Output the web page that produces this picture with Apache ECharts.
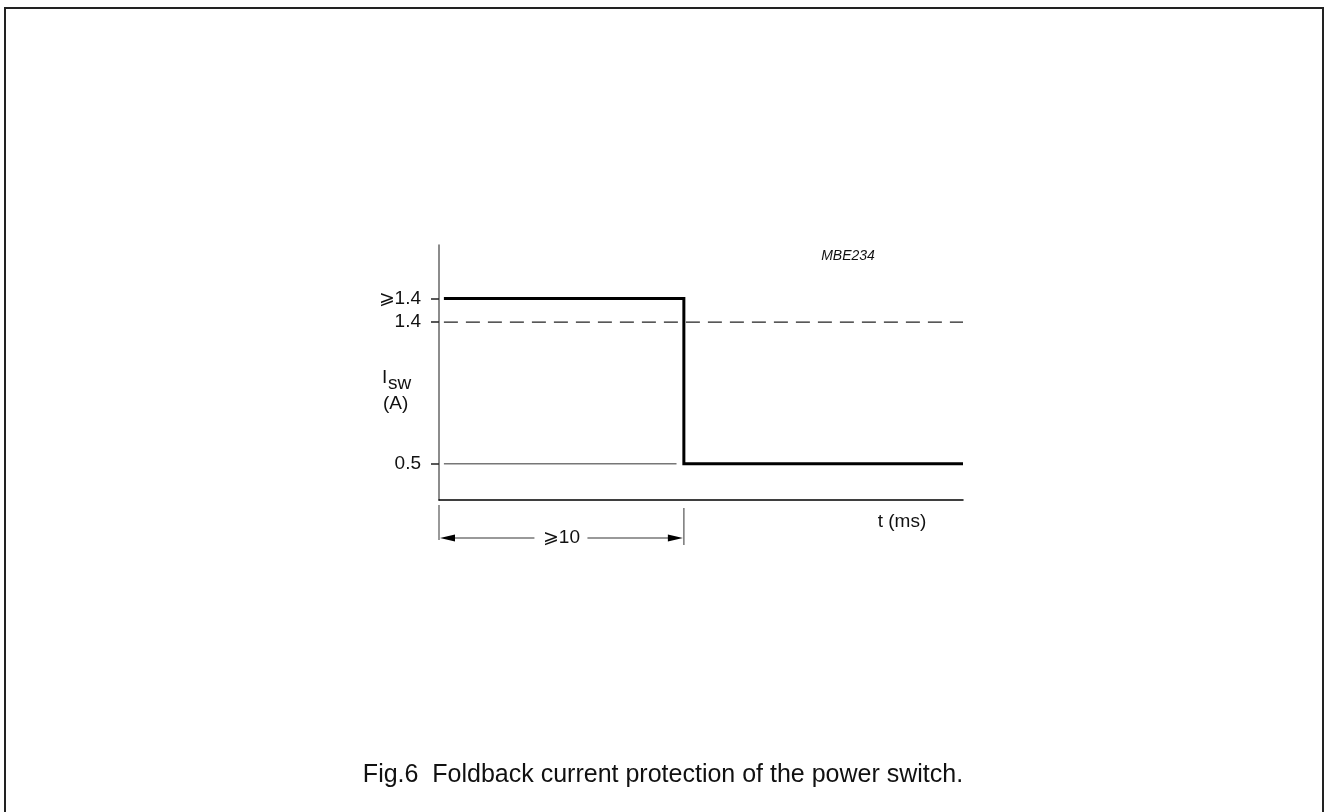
<!DOCTYPE html>
<html>
<head>
<meta charset="utf-8">
<script src="https://cdn.jsdelivr.net/npm/echarts@6/dist/echarts.min.js"></script>
<style>
  html, body { margin: 0; padding: 0; background: #fff; }
  #chart { width: 1326px; height: 812px; }
</style>
</head>
<body>
<div id="chart"></div>
<script>
// ---- data ----
const tRange = [0, 21.4];            // time axis extent (ms, schematic)
const iRange = [0.27, 1.89];         // current axis extent (A, schematic)
const stepT = [0.2, 10, 10, 21.4];   // foldback step (time)
const stepI = [1.55, 1.55, 0.5, 0.5];// foldback step (current)
const refT = [0.2, 21.4];            // dashed 1.4 A reference
const refI = [1.4, 1.4];
const lowT = [0.2, 9.7];             // thin 0.5 A reference
const lowI = [0.5, 0.5];
const yTickValues = [0.5, 1.4, 1.55];
const yTickLabels = ['0.5', '1.4', '\u2A7E1.4'];
const dimSpan = [0, 10];             // dimension arrow span
const dimLabel = '\u2A7E10';
const caption = 'Fig.6  Foldback current protection of the power switch.';
const code = 'MBE234';

const FONT = 'Liberation Sans, Arial, Helvetica, sans-serif';
const zip = (a, b) => a.map((v, i) => [v, b[i]]);

const chart = echarts.init(document.getElementById('chart'), null, { renderer: 'canvas' });

const option = {
  animation: false,
  backgroundColor: '#fff',
  grid: { left: 439, right: 363, top: 245, bottom: 312, containLabel: false },
  xAxis: {
    type: 'value', min: tRange[0], max: tRange[1],
    axisLine: { show: true, lineStyle: { color: '#000', width: 1.5 } },
    axisTick: { show: false }, axisLabel: { show: false }, splitLine: { show: false }
  },
  yAxis: {
    type: 'value', min: iRange[0], max: iRange[1],
    axisLine: { show: true, lineStyle: { color: '#666', width: 1.5 } },
    axisTick: { show: true, length: 8, customValues: yTickValues, lineStyle: { color: '#222', width: 1.5 } },
    axisLabel: {
      show: true, customValues: yTickValues, margin: 18,
      fontFamily: FONT, fontSize: 19, color: '#111',
      formatter: v => {
        const k = yTickValues.findIndex(x => Math.abs(x - v) < 1e-6);
        return k >= 0 ? yTickLabels[k] : '';
      }
    },
    splitLine: { show: false }
  },
  graphic: [
    { type: 'rect', shape: { x: 5, y: 8, width: 1318, height: 830 },
      style: { fill: 'none', stroke: '#222', lineWidth: 2 }, silent: true },
    { type: 'text', x: 382, y: 368, style: { text: 'I', font: '19px ' + FONT, fill: '#111' } },
    { type: 'text', x: 388, y: 374, style: { text: 'sw', font: '19px ' + FONT, fill: '#111' } },
    { type: 'text', x: 383, y: 394, style: { text: '(A)', font: '19px ' + FONT, fill: '#111' } },
    { type: 'text', x: 902, y: 522, style: { text: 't (ms)', font: '19px ' + FONT, fill: '#111', align: 'center', verticalAlign: 'middle' } },
    { type: 'text', x: 848, y: 256, style: { text: code, font: 'italic 14px ' + FONT, fill: '#111', align: 'center', verticalAlign: 'middle' } },
    { type: 'text', x: 663, y: 775, style: { text: caption, font: '25px ' + FONT, fill: '#111', align: 'center', verticalAlign: 'middle' } }
  ],
  series: [
    { type: 'line', data: zip(lowT, lowI), symbol: 'none', clip: false,
      lineStyle: { color: '#777', width: 1.5 } },
    { type: 'line', data: zip(refT, refI), symbol: 'none', clip: false,
      lineStyle: { color: '#222', width: 1.3, type: [14, 8] } },
    { type: 'line', data: zip(stepT, stepI), symbol: 'none', clip: false,
      lineStyle: { color: '#000', width: 3, join: 'miter' } },
    {
      type: 'custom', clip: false, silent: true,
      data: [[dimSpan[0], dimSpan[1]]],
      renderItem: (params, api) => {
        const a = api.coord([api.value(0), iRange[0]]);
        const b = api.coord([api.value(1), iRange[0]]);
        const y = a[1] + 38;
        const mid = (a[0] + b[0]) / 2;
        const gray = { stroke: '#777', lineWidth: 1.5 };
        return {
          type: 'group',
          children: [
            { type: 'line', shape: { x1: a[0], y1: a[1] + 5, x2: a[0], y2: a[1] + 40 }, style: gray },
            { type: 'line', shape: { x1: b[0], y1: b[1] + 8, x2: b[0], y2: b[1] + 45 }, style: gray },
            { type: 'line', shape: { x1: a[0] + 10, y1: y, x2: mid - 27, y2: y }, style: gray },
            { type: 'line', shape: { x1: mid + 26, y1: y, x2: b[0] - 10, y2: y }, style: gray },
            { type: 'polygon', shape: { points: [[a[0] + 1, y], [a[0] + 16, y - 3.5], [a[0] + 16, y + 3.5]] }, style: { fill: '#000' } },
            { type: 'polygon', shape: { points: [[b[0] - 1, y], [b[0] - 16, y - 3.5], [b[0] - 16, y + 3.5]] }, style: { fill: '#000' } },
            { type: 'text', style: { text: dimLabel, x: mid, y: y, align: 'center', verticalAlign: 'middle', font: '19px ' + FONT, fill: '#111' } }
          ]
        };
      }
    }
  ]
};
chart.setOption(option);
</script>
</body>
</html>
